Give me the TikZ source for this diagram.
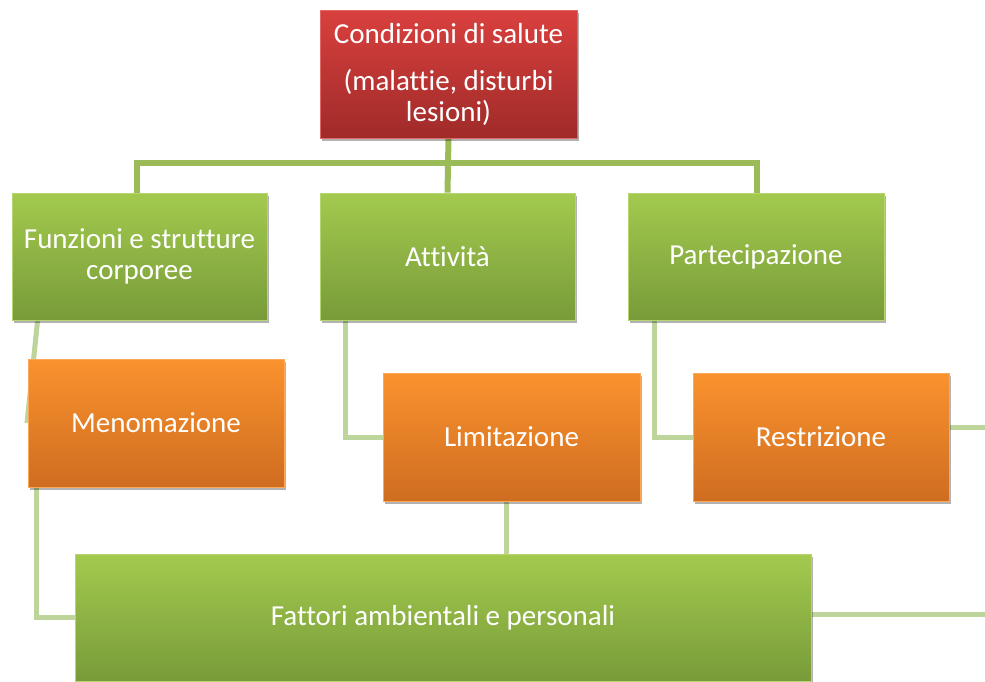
\documentclass[tikz,border=0pt]{standalone}
\usepackage{fontspec}
\setmainfont{Carlito}[Ligatures=NoCommon]
\usetikzlibrary{shadows,backgrounds,calc}
\definecolor{busgreen}{HTML}{9BBB59}
\definecolor{lowgreen}{HTML}{BDD49A}
\definecolor{gtop}{HTML}{A3CA4E}
\definecolor{gbot}{HTML}{789B39}
\definecolor{otop}{HTML}{FA922E}
\definecolor{obot}{HTML}{CF6D20}
\definecolor{rtop}{HTML}{D9403E}
\definecolor{rbot}{HTML}{9F2B29}
\tikzset{
  box/.style={rectangle, inner sep=4pt, align=center, text=white,
    font=\fontsize{29}{31}\selectfont,
    drop shadow={shadow xshift=2pt, shadow yshift=-3pt, opacity=0.3, fill=black}},
  greenbox/.style={box, top color=gtop, bottom color=gbot, draw=gtop!80!white, line width=0.8pt},
  orangebox/.style={box, top color=otop, bottom color=obot, draw=otop!80!white, line width=0.8pt},
  redbox/.style={box, top color=rtop, bottom color=rbot, draw=rtop!80!white, line width=0.8pt},
  busline/.style={draw=busgreen, line width=6pt},
  lowline/.style={draw=lowgreen, line width=5pt},
}
\begin{document}
\begin{tikzpicture}[x=1pt,y=-1pt]
\useasboundingbox (0,0) rectangle (985,681);
\node[redbox, minimum width=257pt, minimum height=128pt] (red) at (448.5,74)
  {Condizioni di salute\\[16pt](malattie, disturbi\\lesioni)};
\node[greenbox, minimum width=255pt, minimum height=127pt] (f1) at (139.5,256.5)
  {Funzioni e strutture\\corporee};
\node[greenbox, minimum width=255pt, minimum height=127pt] (f2) at (447.5,256.5) {Attività};
\node[greenbox, minimum width=256pt, minimum height=127pt] (f3) at (756,256.5) {Partecipazione};
\node[orangebox, minimum width=256pt, minimum height=128pt] (m) at (156,423) {Menomazione};
\node[orangebox, minimum width=257pt, minimum height=128pt] (l) at (511.5,437) {Limitazione};
\node[orangebox, minimum width=256pt, minimum height=128pt] (r) at (821,437) {Restrizione};
\node[greenbox, minimum width=736pt, minimum height=127pt] (fa) at (443,617.5) {Fattori ambientali e personali};
\coordinate (slant) at (27,423);
\coordinate (edge) at (985,0);
\begin{pgfonlayer}{background}
  \draw[busline] (red.south) -- (f2.north);
  \draw[busline] ([xshift=-2.5pt]f1.north) -- ++(0,-30) -| ([xshift=1pt]f3.north);
  \draw[lowline] ([xshift=26pt]f1.south west) -- (slant);
  \draw[lowline] ([xshift=9pt]m.south west) |- (fa.west);
  \draw[lowline] ([xshift=26pt]f2.south west) |- (l.west);
  \draw[lowline] ([xshift=27pt]f3.south west) |- (r.west);
  \draw[lowline] ([yshift=10pt]r.east) -- ([yshift=10pt]r.east -| edge);
  \draw[lowline] ([xshift=-5pt]l.south) -- ([xshift=-5pt]l.south |- fa.north);
  \draw[lowline] ([yshift=3pt]fa.east) -- ([yshift=3pt]fa.east -| edge);
\end{pgfonlayer}
\end{tikzpicture}
\end{document}
